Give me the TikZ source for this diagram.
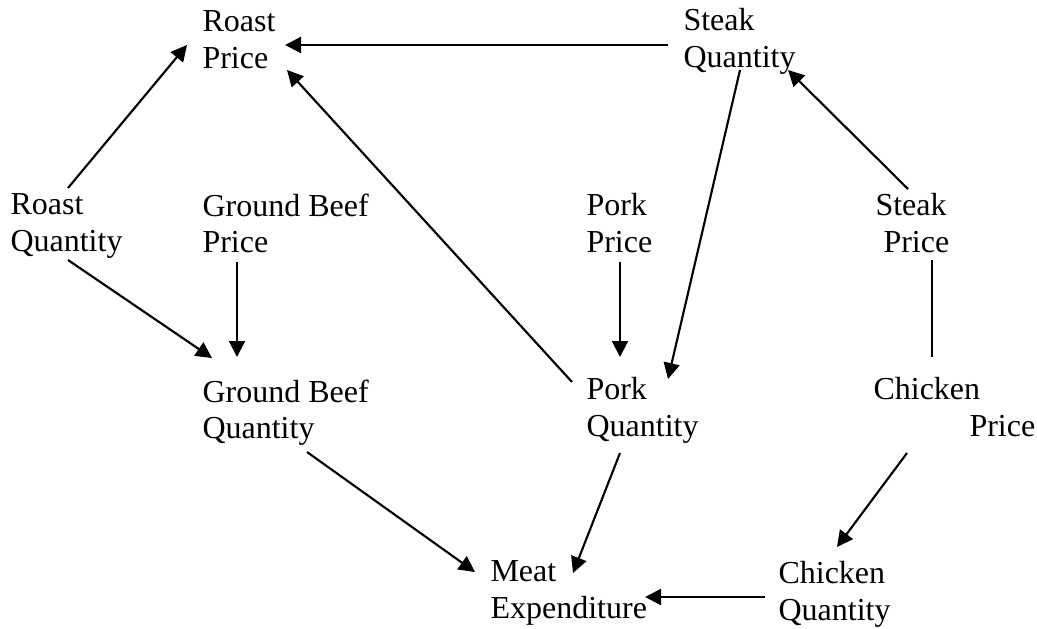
\documentclass[tikz,border=0pt]{standalone}
\usepackage{fontspec}
\setmainfont{Liberation Serif}
\usetikzlibrary{arrows.meta}
\pgfdeclarelayer{edgelayer}
\pgfdeclarelayer{nodelayer}
\pgfsetlayers{edgelayer,nodelayer,main}
\tikzstyle{none}=[inner sep=0mm]
\tikzstyle{var}=[inner sep=0mm,anchor=north west,align=left,font=\fontsize{12}{13.8}\selectfont]
\tikzstyle{causes}=[-{Triangle[length=6pt,width=6pt]},line width=0.8pt]
\tikzstyle{link}=[line width=0.8pt]

\begin{document}
\begin{tikzpicture}[x=0.375pt,y=-0.375pt]
	\useasboundingbox (0,0) rectangle (1037,628);
	\begin{pgfonlayer}{nodelayer}
		\node [style=var] (rp) at (202,10) {Roast\\Price};
		\node [style=var] (sq) at (683,8) {Steak\\Quantity};
		\node [style=var] (rq) at (10,193) {Roast\\Quantity};
		\node [style=var] (gbp) at (202,193) {Ground Beef\\Price};
		\node [style=var] (pp) at (586,193) {Pork\\Price};
		\node [style=var] (sp) at (875,193) {Steak\\\hspace*{3pt}Price};
		\node [style=var] (gbq) at (202,379) {Ground Beef\\Quantity};
		\node [style=var] (pq) at (586,377) {Pork\\Quantity};
		\node [style=var] (cp) at (873,377) {Chicken\\\hspace*{36pt}Price};
		\node [style=var] (me) at (490,560) {Meat\\Expenditure};
		\node [style=var] (cq) at (778,561) {Chicken\\Quantity};
	\end{pgfonlayer}
	\begin{pgfonlayer}{edgelayer}
		\draw [style=causes] ([shift={(58,-5)}]rq.north west) to ([shift={(-15,35)}]rp.north west);
		\draw [style=causes] ([shift={(-15,37)}]sq.north west) to ([shift={(83,35)}]rp.north west);
		\draw [style=causes] ([shift={(-14,5)}]pq.north west) to ([shift={(85,60)}]rp.north west);
		\draw [style=causes] ([shift={(57,62)}]sq.north west) to ([shift={(82,2)}]pq.north west);
		\draw [style=causes] ([shift={(33,-4)}]sp.north west) to ([shift={(105,62)}]sq.north west);
		\draw [style=link] ([shift={(57,67)}]sp.north west) to ([shift={(59,-20)}]cp.north west);
		\draw [style=causes] ([shift={(34,69)}]pp.north west) to ([shift={(34,-20)}]pq.north west);
		\draw [style=causes] ([shift={(35,69)}]gbp.north west) to ([shift={(35,-22)}]gbq.north west);
		\draw [style=causes] ([shift={(58,67)}]rq.north west) to ([shift={(10,-21)}]gbq.north west);
		\draw [style=causes] ([shift={(105,73)}]gbq.north west) to ([shift={(-15,12)}]me.north west);
		\draw [style=causes] ([shift={(34,76)}]pq.north west) to ([shift={(83,13)}]me.north west);
		\draw [style=causes] ([shift={(34,76)}]cp.north west) to ([shift={(59,-14)}]cq.north west);
		\draw [style=causes] ([shift={(-13,36)}]cq.north west) to ([shift={(155,37)}]me.north west);
	\end{pgfonlayer}
\end{tikzpicture}
\end{document}
